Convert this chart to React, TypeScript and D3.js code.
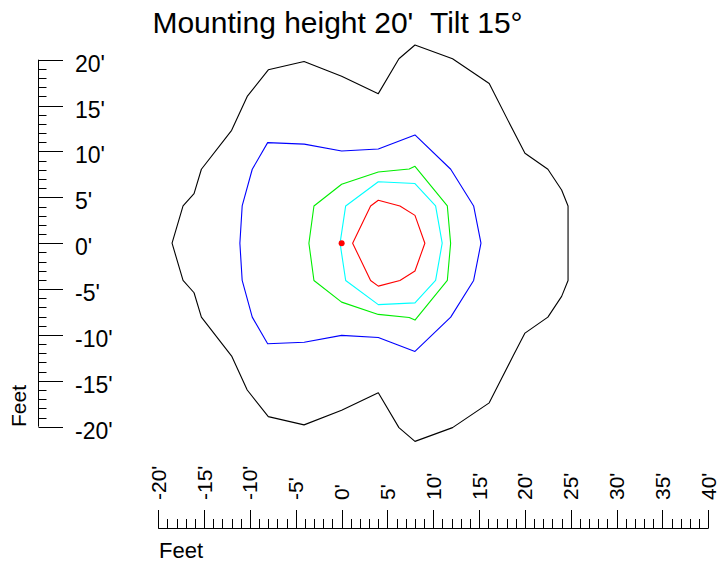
import React from "react";
import * as d3 from "d3";

const TITLE = "Mounting height 20'\u00A0\u00A0Tilt 15°";
const X_TICKS = [-20, -15, -10, -5, 0, 5, 10, 15, 20, 25, 30, 35, 40];
const Y_TICKS = [20, 15, 10, 5, 0, -5, -10, -15, -20];
const AXIS_LABEL = "Feet";

// contour polygons (feet)
const blackX = [-18.5, -17.3, -16.1, -15.3, -12.0, -10.3, -8.0, -4.1, 0.0, 4.0, 6.25, 8.0, 12.1, 16.1, 18.7, 20.0, 22.5, 24.0, 24.7, 24.7, 24.0, 22.5, 20.0, 18.7, 16.1, 12.1, 8.0, 6.25, 4.0, 0.0, -4.1, -8.0, -10.3, -12.0, -15.3, -16.1, -17.3];
const blackY = [0.0, 4.06, 5.4, 8.06, 12.3, 16.0, 18.9, 19.8, 18.2, 16.3, 20.1, 21.6, 20.1, 17.4, 12.3, 9.8, 8.06, 5.8, 4.06, -4.06, -5.8, -8.06, -9.8, -12.3, -17.4, -20.1, -21.6, -20.1, -16.3, -18.2, -19.8, -18.9, -16.0, -12.3, -8.06, -5.4, -4.06];

const blueX = [-11.1, -10.85, -9.75, -8.07, -4.08, 0.0, 4.0, 8.0, 11.9, 14.4, 15.2, 14.4, 11.9, 8.0, 4.0, 0.0, -4.08, -8.07, -9.75, -10.85];
const blueY = [0.0, 4.06, 8.06, 10.96, 10.8, 10.05, 10.27, 11.8, 8.06, 4.06, 0.0, -4.06, -8.06, -11.8, -10.27, -10.05, -10.8, -10.96, -8.06, -4.06];

const greenX = [-3.57, -3.02, 0.0, 4.0, 7.37, 8.0, 11.53, 11.89, 11.53, 8.0, 7.37, 4.0, 0.0, -3.02];
const greenY = [0.0, 4.06, 6.42, 7.76, 8.09, 8.38, 4.06, 0.0, -4.06, -8.38, -8.09, -7.76, -6.42, -4.06];

const cyanX = [-0.17, 0.44, 4.0, 8.0, 10.25, 10.97, 10.25, 8.0, 4.0, 0.44];
const cyanY = [0.0, 4.06, 6.7, 6.5, 4.06, 0.0, -4.06, -6.5, -6.7, -4.06];

const redX = [1.2, 3.16, 4.0, 6.36, 8.0, 9.08, 8.0, 6.36, 4.0, 3.16];
const redY = [0.0, 4.06, 4.68, 4.06, 3.03, 0.0, -3.03, -4.06, -4.68, -4.06];

const contours = [
  { xs: blackX, ys: blackY, color: "#000000" },
  { xs: blueX, ys: blueY, color: "#0000ff" },
  { xs: greenX, ys: greenY, color: "#00ee00" },
  { xs: cyanX, ys: cyanY, color: "#00ffff" },
  { xs: redX, ys: redY, color: "#ff0000" },
];

const FONT = "'Liberation Sans', Arial, sans-serif";

export default function App() {
  const W = 725, H = 564;
  const x = d3.scaleLinear().domain([-20, 40]).range([158.3, 708.3]);
  const y = d3.scaleLinear().domain([-20, 20]).range([426.7, 59.7]);
  const line = d3
    .line<[number, number]>()
    .x((d) => x(d[0]))
    .y((d) => y(d[1]))
    .curve(d3.curveLinearClosed);

  const yMinor = d3.range(-20, 21, 1);
  const xMinor = d3.range(-20, 41, 1);
  const axX = 38.5;
  const axY = 528.5;

  return (
    <div style={{ position: "fixed", left: 0, top: 0 }}>
      <svg width={W} height={H} style={{ display: "block", background: "#fff" }} fontFamily={FONT}>
        <text x={337.5} y={33} textAnchor="middle" fontSize={30} fill="#000">
          {TITLE}
        </text>

        {/* contours */}
        {contours.map((c, i) => (
          <path
            key={i}
            d={line(c.xs.map((v, j) => [v, c.ys[j]] as [number, number])) || ""}
            fill="none"
            stroke={c.color}
            strokeWidth={1.1}
            strokeLinejoin="round"
          />
        ))}
        <circle cx={x(0)} cy={y(0)} r={3} fill="#ff0000" />

        {/* Y axis */}
        <line x1={axX} x2={axX} y1={y(20)} y2={y(-20)} stroke="#000" strokeWidth={1} />
        {yMinor.map((v) => (
          <line
            key={"ym" + v}
            x1={axX}
            x2={v % 5 === 0 ? 63 : 46.5}
            y1={Math.round(y(v)) + 0.5}
            y2={Math.round(y(v)) + 0.5}
            stroke="#000"
            strokeWidth={1}
          />
        ))}
        {Y_TICKS.map((v) => (
          <text key={"yl" + v} x={75} y={y(v) + 12} fontSize={23} fill="#000">
            {v + "'"}
          </text>
        ))}
        <text transform={`translate(26,427) rotate(-90)`} fontSize={21} fill="#000">
          {AXIS_LABEL}
        </text>

        {/* X axis */}
        <line x1={x(-20)} x2={x(40)} y1={axY} y2={axY} stroke="#000" strokeWidth={1} />
        {xMinor.map((v) => (
          <line
            key={"xm" + v}
            x1={Math.round(x(v)) + 0.5}
            x2={Math.round(x(v)) + 0.5}
            y1={axY}
            y2={v % 5 === 0 ? 510 : 519}
            stroke="#000"
            strokeWidth={1}
          />
        ))}
        {X_TICKS.map((v) => (
          <text
            key={"xl" + v}
            transform={`translate(${x(v) + 7.5},500) rotate(-90)`}
            fontSize={21}
            fill="#000"
          >
            {v + "'"}
          </text>
        ))}
        <text x={159} y={558} fontSize={22} fill="#000">
          {AXIS_LABEL}
        </text>
      </svg>
    </div>
  );
}
